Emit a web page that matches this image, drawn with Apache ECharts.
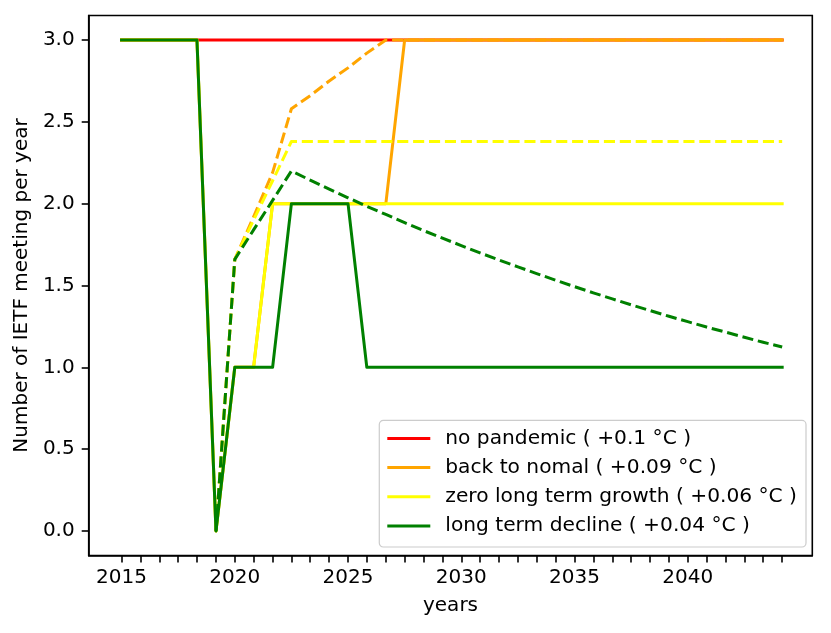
<!DOCTYPE html>
<html>
<head>
<meta charset="utf-8">
<script src="https://cdn.jsdelivr.net/npm/echarts@6/dist/echarts.min.js"></script>
<style>
  html, body { margin: 0; padding: 0; background: #fff; }
  #main { width: 831px; height: 633px; }
</style>
</head>
<body>
<div id="main"></div>
<script>
// x positions of the data points (one every 10 months)
var years = [2015, 2015.83, 2016.67, 2017.5, 2018.33, 2019.17, 2020, 2020.83, 2021.67, 2022.5,
    2023.33, 2024.17, 2025, 2025.83, 2026.67, 2027.5, 2028.33, 2029.17, 2030, 2030.83,
    2031.67, 2032.5, 2033.33, 2034.17, 2035, 2035.83, 2036.67, 2037.5, 2038.33, 2039.17,
    2040, 2040.83, 2041.67, 2042.5, 2043.33, 2044.17];
var yearLabels = [2015, 2020, 2025, 2030, 2035, 2040];
var yTicks = [0, 0.5, 1, 1.5, 2, 2.5, 3];

var noPandemic = [3, 3, 3, 3, 3, 3, 3, 3, 3, 3, 3, 3, 3, 3, 3, 3, 3, 3, 3, 3, 3, 3, 3, 3, 3, 3, 3, 3, 3, 3, 3, 3, 3, 3, 3, 3];
var backToNormal = [3, 3, 3, 3, 3, 0, 1, 1, 2, 2, 2, 2, 2, 2, 2, 3, 3, 3, 3, 3, 3, 3, 3, 3, 3, 3, 3, 3, 3, 3, 3, 3, 3, 3, 3, 3];
var zeroGrowth = [3, 3, 3, 3, 3, 0, 1, 1, 2, 2, 2, 2, 2, 2, 2, 2, 2, 2, 2, 2, 2, 2, 2, 2, 2, 2, 2, 2, 2, 2, 2, 2, 2, 2, 2, 2];
var longDecline = [3, 3, 3, 3, 3, 0, 1, 1, 1, 2, 2, 2, 2, 1, 1, 1, 1, 1, 1, 1, 1, 1, 1, 1, 1, 1, 1, 1, 1, 1, 1, 1, 1, 1, 1, 1];

// dashed variants
var backToNormalDash = [null, null, null, null, null, 0, 1.66, 1.92, 2.19, 2.58, 2.66, 2.75, 2.83, 2.92, 3,
    3, 3, 3, 3, 3, 3, 3, 3, 3, 3, 3, 3, 3, 3, 3, 3, 3, 3, 3, 3, 3];
var zeroGrowthDash = [null, null, null, null, null, 0, 1.66, 1.90, 2.14, 2.38, 2.38, 2.38, 2.38, 2.38, 2.38,
    2.38, 2.38, 2.38, 2.38, 2.38, 2.38, 2.38, 2.38, 2.38, 2.38, 2.38, 2.38, 2.38, 2.38, 2.38,
    2.38, 2.38, 2.38, 2.38, 2.38, 2.38];
var longDeclineDash = [null, null, null, null, null, 0, 1.66, 1.84, 2.02, 2.200, 2.144, 2.089, 2.036, 1.984, 1.934,
    1.884, 1.836, 1.789, 1.744, 1.699, 1.656, 1.614, 1.573, 1.532, 1.493, 1.455, 1.418, 1.382, 1.347, 1.312,
    1.279, 1.246, 1.215, 1.184, 1.153, 1.124];

var names = ['no pandemic ( +0.1 °C )', 'back to nomal ( +0.09 °C )',
    'zero long term growth ( +0.06 °C )', 'long term decline ( +0.04 °C )'];

function pairs(vals) {
    var out = [];
    for (var i = 0; i < years.length; i++) {
        if (vals[i] != null) out.push([years[i], vals[i]]);
    }
    return out;
}

function line(name, color, vals, dashed) {
    return {
        name: name,
        type: 'line',
        data: pairs(vals),
        color: color,
        symbol: 'none',
        silent: true,
        lineStyle: {
            color: color,
            width: 3,
            type: dashed ? [11.1, 4.8] : 'solid',
            join: 'round',
            cap: dashed ? 'butt' : 'square'
        }
    };
}

var font = 'DejaVu Sans';
var myChart = echarts.init(document.getElementById('main'));
myChart.setOption({
    animation: false,
    textStyle: { fontFamily: font },
    grid: {
        left: 88.7, right: 18.7, top: 15.5, bottom: 77.5,
        show: true, borderColor: '#000', borderWidth: 1.6, backgroundColor: 'transparent'
    },
    legend: {
        data: names,
        orient: 'vertical',
        right: 25,
        bottom: 86,
        icon: 'rect',
        itemWidth: 43,
        itemHeight: 3,
        itemGap: 7.2,
        padding: [7, 9, 10, 8],
        borderColor: '#cccccc',
        borderWidth: 1.2,
        borderRadius: 4,
        backgroundColor: 'rgba(255,255,255,0.8)',
        textStyle: { fontFamily: font, fontSize: 20.2, color: '#000', lineHeight: 22, padding: [0, 0, 0, 10] }
    },
    xAxis: {
        type: 'value',
        min: 2013.55,
        max: 2045.5,
        name: 'years',
        nameLocation: 'middle',
        nameGap: 40,
        nameTextStyle: { fontFamily: font, fontSize: 20, color: '#000' },
        axisLine: { show: true, onZero: false, lineStyle: { color: '#000', width: 1.6 } },
        axisTick: { show: true, length: 7, lineStyle: { color: '#000', width: 1.6 }, customValues: years },
        axisLabel: {
            margin: 12, fontFamily: font, fontSize: 20, color: '#000',
            customValues: yearLabels,
            formatter: function (v) { return String(Math.round(v)); }
        },
        splitLine: { show: false }
    },
    yAxis: {
        type: 'value',
        min: -0.15,
        max: 3.15,
        name: 'Number of IETF meeting per year',
        nameLocation: 'middle',
        nameRotate: 90,
        nameGap: 55,
        nameTextStyle: { fontFamily: font, fontSize: 20, color: '#000' },
        axisLine: { show: true, onZero: false, lineStyle: { color: '#000', width: 1.6 } },
        axisTick: { show: true, length: 7, lineStyle: { color: '#000', width: 1.6 }, customValues: yTicks },
        axisLabel: {
            margin: 14, fontFamily: font, fontSize: 20, color: '#000',
            customValues: yTicks,
            formatter: function (v) { return v.toFixed(1); }
        },
        splitLine: { show: false }
    },
    series: [
        line(names[0], '#ff0000', noPandemic, false),
        line(names[1], '#ffa500', backToNormal, false),
        line('back to nomal (dashed)', '#ffa500', backToNormalDash, true),
        line(names[2], '#ffff00', zeroGrowth, false),
        line('zero long term growth (dashed)', '#ffff00', zeroGrowthDash, true),
        line(names[3], '#008000', longDecline, false),
        line('long term decline (dashed)', '#008000', longDeclineDash, true)
    ]
});
</script>
</body>
</html>
